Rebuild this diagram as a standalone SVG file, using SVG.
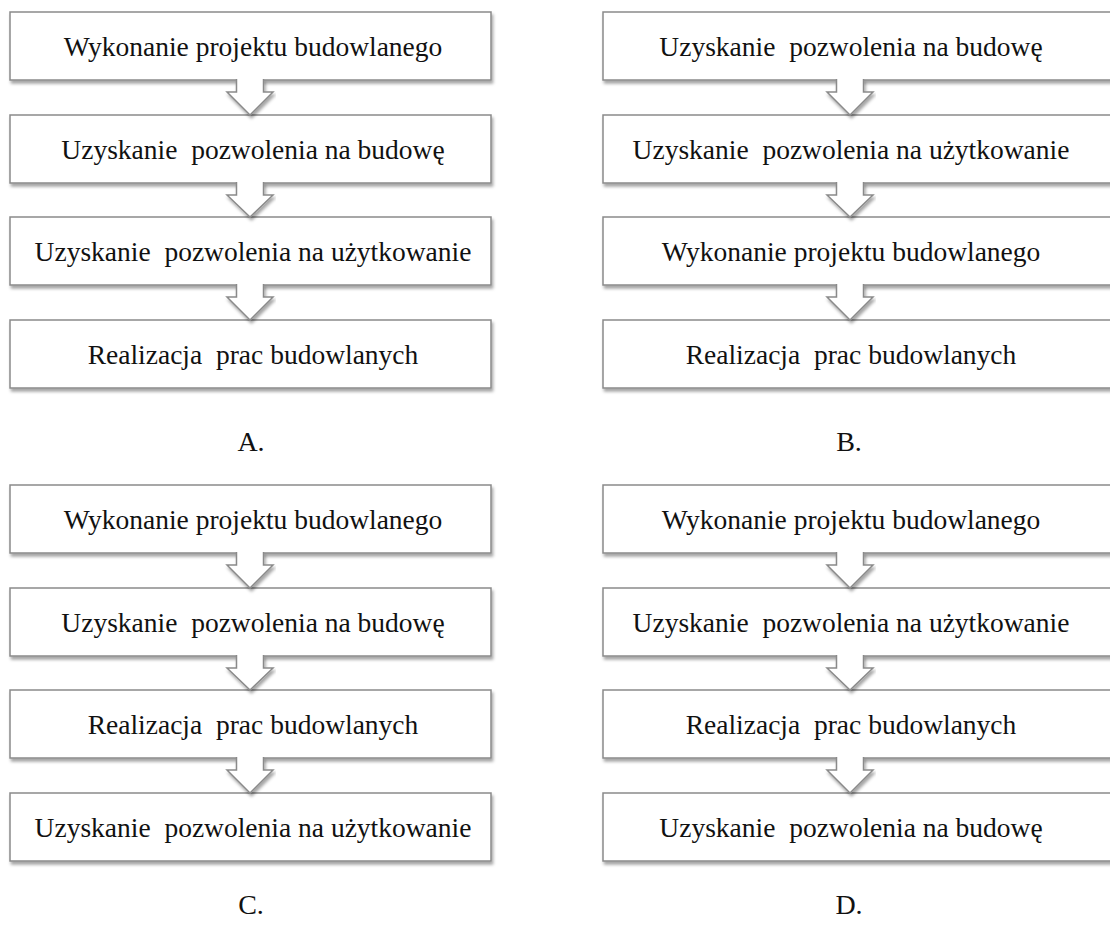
<svg xmlns="http://www.w3.org/2000/svg" width="1110" height="928" viewBox="0 0 1110 928">
<defs>
<filter id="sh" x="-5%" y="-20%" width="110%" height="150%">
<feDropShadow dx="1.5" dy="3" stdDeviation="1.8" flood-color="#000" flood-opacity="0.35"/>
</filter>
<style>
.box{fill:#fff;stroke:#8a8a8a;stroke-width:1.5;filter:url(#sh)}
.arr{fill:#fff;stroke:#8a8a8a;stroke-width:1.5;filter:url(#sh)}
.t{font-family:"Liberation Serif","Times New Roman",serif;font-size:27.5px;fill:#111;text-anchor:middle;white-space:pre}
.lbl{font-family:"Liberation Serif","Times New Roman",serif;font-size:28px;fill:#111;text-anchor:middle}
</style>
</defs>
<rect width="1110" height="928" fill="#fff"/>

<g id="A1"><rect class="box" x="10" y="12" width="481" height="68"/><text class="t" x="253" y="56">Wykonanie projektu budowlanego</text></g>
<g id="A2"><rect class="box" x="10" y="115" width="481" height="68"/><text class="t" x="253" y="159">Uzyskanie  pozwolenia na budowę</text></g>
<g id="A3"><rect class="box" x="10" y="217" width="481" height="68"/><text class="t" x="253" y="261">Uzyskanie  pozwolenia na użytkowanie</text></g>
<g id="A4"><rect class="box" x="10" y="320" width="481" height="68"/><text class="t" x="253" y="364">Realizacja  prac budowlanych</text></g>

<g id="B1"><rect class="box" x="603" y="12" width="520" height="68"/><text class="t" x="851" y="56">Uzyskanie  pozwolenia na budowę</text></g>
<g id="B2"><rect class="box" x="603" y="115" width="520" height="68"/><text class="t" x="851" y="159">Uzyskanie  pozwolenia na użytkowanie</text></g>
<g id="B3"><rect class="box" x="603" y="217" width="520" height="68"/><text class="t" x="851" y="261">Wykonanie projektu budowlanego</text></g>
<g id="B4"><rect class="box" x="603" y="320" width="520" height="68"/><text class="t" x="851" y="364">Realizacja  prac budowlanych</text></g>

<g id="C1"><rect class="box" x="10" y="485" width="481" height="68"/><text class="t" x="253" y="529">Wykonanie projektu budowlanego</text></g>
<g id="C2"><rect class="box" x="10" y="588" width="481" height="68"/><text class="t" x="253" y="632">Uzyskanie  pozwolenia na budowę</text></g>
<g id="C3"><rect class="box" x="10" y="690" width="481" height="68"/><text class="t" x="253" y="734">Realizacja  prac budowlanych</text></g>
<g id="C4"><rect class="box" x="10" y="793" width="481" height="68"/><text class="t" x="253" y="837">Uzyskanie  pozwolenia na użytkowanie</text></g>

<g id="D1"><rect class="box" x="603" y="485" width="520" height="68"/><text class="t" x="851" y="529">Wykonanie projektu budowlanego</text></g>
<g id="D2"><rect class="box" x="603" y="588" width="520" height="68"/><text class="t" x="851" y="632">Uzyskanie  pozwolenia na użytkowanie</text></g>
<g id="D3"><rect class="box" x="603" y="690" width="520" height="68"/><text class="t" x="851" y="734">Realizacja  prac budowlanych</text></g>
<g id="D4"><rect class="box" x="603" y="793" width="520" height="68"/><text class="t" x="851" y="837">Uzyskanie  pozwolenia na budowę</text></g>

<g id="connectors">
<path class="arr" d="M236.5,79 V92 H227 L250,115 L273,92 H263.5 V79"/>
<path class="arr" d="M236.5,182 V195 H227 L250,217 L273,195 H263.5 V182"/>
<path class="arr" d="M236.5,284 V297 H227 L250,320 L273,297 H263.5 V284"/>
<path class="arr" d="M836.5,79 V92 H827 L850,115 L873,92 H863.5 V79"/>
<path class="arr" d="M836.5,182 V195 H827 L850,217 L873,195 H863.5 V182"/>
<path class="arr" d="M836.5,284 V297 H827 L850,320 L873,297 H863.5 V284"/>
<path class="arr" d="M236.5,552 V565 H227 L250,588 L273,565 H263.5 V552"/>
<path class="arr" d="M236.5,655 V668 H227 L250,690 L273,668 H263.5 V655"/>
<path class="arr" d="M236.5,757 V770 H227 L250,793 L273,770 H263.5 V757"/>
<path class="arr" d="M836.5,552 V565 H827 L850,588 L873,565 H863.5 V552"/>
<path class="arr" d="M836.5,655 V668 H827 L850,690 L873,668 H863.5 V655"/>
<path class="arr" d="M836.5,757 V770 H827 L850,793 L873,770 H863.5 V757"/>
</g>

<g id="labels">
<text class="lbl" x="251" y="451">A.</text>
<text class="lbl" x="849" y="451">B.</text>
<text class="lbl" x="251" y="914">C.</text>
<text class="lbl" x="849" y="914">D.</text>
</g>
</svg>
